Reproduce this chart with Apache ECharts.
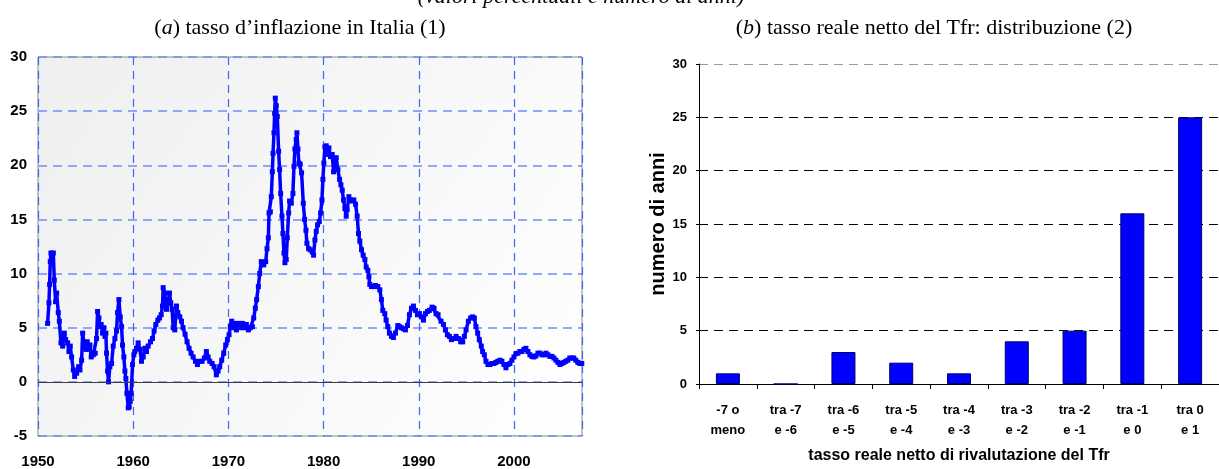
<!DOCTYPE html>
<html lang="it">
<head>
<meta charset="UTF-8">
<title>Inflazione e tasso reale del Tfr</title>
<script src="https://cdn.jsdelivr.net/npm/echarts@6/dist/echarts.min.js"></script>
<style>
    html, body { margin: 0; padding: 0; background: #fff; }
    #main { width: 1219px; height: 469px; }
</style>
</head>
<body>
<div id="main"></div>
<script>
// (a) inflazione: [anno, %], divisi per decennio
var infl1950s = [[1951.01,5.4],[1951.15,7.3],[1951.22,9.0],[1951.29,11.1],[1951.36,11.9],[1951.61,11.9],[1951.71,9.4],
    [1951.85,7.4],[1951.96,8.2],[1952.13,6.4],[1952.24,5.6],[1952.41,3.6],[1952.59,3.3],[1952.76,4.5],[1952.9,3.9],
    [1953.11,3.6],[1953.25,2.8],[1953.39,3.3],[1953.53,2.3],[1953.71,1.1],[1953.85,0.5],[1954.06,0.8],[1954.27,1.4],
    [1954.41,1.1],[1954.58,2.0],[1954.69,4.5],[1954.83,3.6],[1955.03,3.0],[1955.17,3.7],[1955.31,3.0],[1955.45,3.4],
    [1955.59,2.3],[1955.8,2.5],[1956.01,2.65],[1956.15,4.0],[1956.26,6.5],[1956.4,5.9],[1956.5,5.1],[1956.64,5.3],
    [1956.78,4.5],[1956.92,5.0],[1957.03,4.2],[1957.13,4.5],[1957.2,2.65],[1957.31,1.0],[1957.41,0.0],[1957.55,1.4],
    [1957.73,1.7],[1957.9,3.3],[1958.08,4.0],[1958.25,4.7],[1958.36,6.4],[1958.5,7.6],[1958.64,6.0],[1958.78,5.1],
    [1958.88,3.4],[1959.02,2.3],[1959.13,1.0],[1959.23,0.3],[1959.34,-1.05],[1959.48,-2.4],[1959.58,-2.3],
    [1959.69,-1.8],[1959.79,-1.05],[1959.93,1.6]];
var infl1960s = [[1960.07,2.5],[1960.17,2.8],[1960.35,3.1],[1960.52,3.6],[1960.7,3.0],[1960.87,1.9],[1961.05,2.3],
    [1961.22,3.1],[1961.4,2.8],[1961.57,3.3],[1961.82,3.7],[1962.03,4.0],[1962.2,4.7],[1962.38,5.3],[1962.59,5.7],
    [1962.76,5.9],[1962.94,6.2],[1963.08,7.0],[1963.15,8.7],[1963.29,8.2],[1963.39,7.6],[1963.5,6.7],[1963.67,7.3],
    [1963.81,8.2],[1963.95,7.3],[1964.09,6.7],[1964.2,5.0],[1964.37,4.8],[1964.55,7.0],[1964.69,6.4],[1964.9,6.0],
    [1965.07,5.6],[1965.24,5.0],[1965.45,4.4],[1965.66,3.7],[1965.87,3.1],[1966.08,2.65],[1966.29,2.3],[1966.54,1.9],
    [1966.75,1.6],[1966.99,1.9],[1967.24,1.9],[1967.48,2.2],[1967.69,2.8],[1967.87,2.3],[1968.04,1.9],[1968.29,1.7],
    [1968.5,1.4],[1968.74,0.65],[1968.92,1.0],[1969.09,1.4],[1969.3,2.0],[1969.51,2.65],[1969.72,3.4],[1969.9,3.9]];
var infl1970s = [[1970.07,4.35],[1970.21,5.1],[1970.35,5.6],[1970.49,5.0],[1970.66,5.4],[1970.84,4.8],[1971.05,5.4],
    [1971.26,5.0],[1971.47,5.4],[1971.68,5.0],[1971.89,5.3],[1972.1,4.8],[1972.31,5.0],[1972.52,5.1],[1972.66,5.9],
    [1972.83,6.8],[1972.97,7.6],[1973.15,8.8],[1973.29,10.0],[1973.46,11.1],[1973.71,10.8],[1973.92,11.1],
    [1974.06,12.3],[1974.2,13.3],[1974.27,15.6],[1974.41,15.7],[1974.51,17.1],[1974.62,19.4],[1974.69,21.1],
    [1974.79,23.0],[1974.86,24.8],[1974.93,26.2],[1975.03,25.5],[1975.14,24.5],[1975.28,21.3],[1975.38,19.6],
    [1975.49,17.4],[1975.63,15.3],[1975.73,13.7],[1975.84,11.9],[1975.94,11.0],[1976.08,11.3],[1976.19,13.3],
    [1976.33,15.6],[1976.43,16.7],[1976.61,16.5],[1976.78,17.4],[1976.89,19.9],[1976.99,21.5],[1977.13,22.4],
    [1977.2,23.0],[1977.31,21.5],[1977.41,20.2],[1977.55,20.1],[1977.69,19.3],[1977.87,16.5],[1978.01,15.0],
    [1978.15,14.0],[1978.25,12.8],[1978.43,12.3],[1978.6,12.2],[1978.81,12.0],[1978.95,11.7],[1979.09,13.1],
    [1979.23,13.9],[1979.37,14.5],[1979.55,14.8],[1979.69,15.6],[1979.83,16.8],[1979.93,18.7]];
var infl1980s = [[1980.03,20.2],[1980.14,21.7],[1980.28,21.8],[1980.45,21.0],[1980.56,21.6],[1980.73,20.8],
    [1980.91,21.0],[1981.05,19.4],[1981.22,20.2],[1981.33,20.7],[1981.5,19.6],[1981.68,18.7],[1981.82,18.2],
    [1981.96,17.7],[1982.1,16.8],[1982.24,16.0],[1982.38,15.3],[1982.48,15.9],[1982.66,17.1],[1982.83,16.8],
    [1983.01,16.7],[1983.18,16.8],[1983.36,16.4],[1983.53,15.3],[1983.67,13.7],[1983.81,13.0],[1983.99,12.2],
    [1984.16,11.7],[1984.34,11.3],[1984.48,10.6],[1984.65,10.3],[1984.76,9.7],[1984.86,9.0],[1985.03,8.8],
    [1985.24,8.8],[1985.45,8.9],[1985.7,8.8],[1985.91,8.5],[1986.08,7.6],[1986.22,6.6],[1986.43,6.3],[1986.57,5.7],
    [1986.75,5.1],[1986.92,4.5],[1987.13,4.2],[1987.34,4.1],[1987.55,4.5],[1987.8,5.2],[1987.97,5.1],[1988.18,5.0],
    [1988.39,4.9],[1988.6,4.8],[1988.81,5.2],[1989.02,6.2],[1989.23,6.8],[1989.44,7.0],[1989.65,6.6],[1989.86,6.2]];
var infl1990s = [[1990.07,6.3],[1990.28,6.0],[1990.49,5.7],[1990.7,6.3],[1990.91,6.5],[1991.12,6.6],[1991.4,6.9],
    [1991.61,6.8],[1991.82,6.3],[1992.03,6.2],[1992.34,5.6],[1992.59,5.3],[1992.8,4.8],[1993.01,4.35],[1993.22,4.2],
    [1993.43,3.9],[1993.71,4.0],[1993.92,4.2],[1994.17,4.0],[1994.41,3.7],[1994.62,3.7],[1994.79,4.2],[1994.97,4.8],
    [1995.21,5.6],[1995.45,5.9],[1995.66,6.0],[1995.84,5.9],[1996.01,5.1],[1996.19,4.5],[1996.36,3.9],[1996.57,3.3],
    [1996.71,2.8],[1996.89,2.5],[1997.06,1.9],[1997.27,1.6],[1997.48,1.6],[1997.69,1.7],[1997.9,1.7],[1998.11,1.8],
    [1998.32,1.9],[1998.53,2.0],[1998.74,1.9],[1998.95,1.6],[1999.16,1.3],[1999.37,1.6],[1999.58,1.7],[1999.79,2.0]];
var infl2000s = [[2000.0,2.3],[2000.21,2.6],[2000.42,2.65],[2000.63,2.8],[2000.84,2.8],[2001.05,3.0],[2001.26,3.1],
    [2001.47,2.8],[2001.68,2.5],[2001.89,2.35],[2002.1,2.3],[2002.31,2.4],[2002.52,2.65],[2002.73,2.65],[2002.94,2.5],
    [2003.15,2.5],[2003.36,2.65],[2003.57,2.5],[2003.78,2.35],[2003.99,2.35],[2004.2,2.2],[2004.41,2.0],[2004.62,1.8],
    [2004.83,1.6],[2005.04,1.7],[2005.24,1.8],[2005.45,1.9],[2005.66,2.0],[2005.87,2.2],[2006.08,2.2],[2006.29,2.2],
    [2006.5,2.0],[2006.71,1.8],[2006.92,1.7],[2007.13,1.7]];

// (b) distribuzione del tasso reale netto del Tfr
var tfrClasses = ['-7 o\nmeno', 'tra -7\ne -6', 'tra -6\ne -5', 'tra -5\ne -4', 'tra -4\ne -3',
    'tra -3\ne -2', 'tra -2\ne -1', 'tra -1\ne 0', 'tra 0\ne 1'];
var tfrYears = [1, 0, 3, 2, 1, 4, 5, 16, 25];

var inflazione = infl1950s.concat(infl1960s, infl1970s, infl1980s, infl1990s, infl2000s);

var serif = '"Liberation Serif", "Times New Roman", serif';
var sans = '"Liberation Sans", Arial, sans-serif';

var chart = echarts.init(document.getElementById('main'));
var option = {
    animation: false,
    title: [{
        text: '(valori percentuali e numero di anni)',
        left: 581, top: -14, textAlign: 'center', padding: 0,
        textStyle: {fontFamily: serif, fontSize: 22, fontStyle: 'italic', fontWeight: 'normal', color: '#000'}
    }, {
        text: '({i|a}) tasso d\u2019inflazione in Italia (1)',
        left: 300, top: 17, textAlign: 'center', padding: 0,
        textStyle: {fontFamily: serif, fontSize: 22, fontWeight: 'normal', color: '#000',
            rich: {i: {fontFamily: serif, fontSize: 22, fontStyle: 'italic', color: '#000'}}}
    }, {
        text: '({i|b}) tasso reale netto del Tfr: distribuzione (2)',
        left: 934, top: 17, textAlign: 'center', padding: 0,
        textStyle: {fontFamily: serif, fontSize: 22, fontWeight: 'normal', color: '#000',
            rich: {i: {fontFamily: serif, fontSize: 22, fontStyle: 'italic', color: '#000'}}}
    }],
    grid: [{
        left: 38, top: 57, width: 544, height: 379,
        show: true, borderColor: '#8c8c8c', borderWidth: 1,
        backgroundColor: new echarts.graphic.LinearGradient(0, 0, 1, 1, [
            {offset: 0, color: '#efefef'}, {offset: 1, color: '#ffffff'}])
    }, {
        left: 699, top: 64, width: 527, height: 321
    }],
    xAxis: [{
        gridIndex: 0, type: 'value', min: 1950, max: 2007.15, interval: 10,
        axisLine: {show: false}, axisTick: {show: false},
        axisLabel: {
            showMaxLabel: false, margin: 18, color: '#000',
            fontFamily: sans, fontSize: 15, fontWeight: 'bold',
            formatter: function (v) { return v % 10 === 0 ? String(v) : ''; }
        },
        splitLine: {show: true, lineStyle: {color: '#3d66f2', width: 1.2, type: [8, 6]}}
    }, {
        gridIndex: 1, type: 'category', data: tfrClasses,
        axisLine: {lineStyle: {color: '#000', width: 1}},
        axisTick: {show: true, length: 5, lineStyle: {color: '#000'}},
        axisLabel: {
            interval: 0, margin: 16, color: '#000', lineHeight: 20,
            fontFamily: sans, fontSize: 13, fontWeight: 'bold'
        },
        name: 'tasso reale netto di rivalutazione del Tfr',
        nameLocation: 'middle', nameGap: 64,
        nameTextStyle: {fontFamily: sans, fontSize: 16, fontWeight: 'bold', color: '#000'}
    }],
    yAxis: [{
        gridIndex: 0, type: 'value', min: -5, max: 30, interval: 5,
        axisLine: {show: false}, axisTick: {show: false},
        axisLabel: {margin: 11, color: '#000', fontFamily: sans, fontSize: 15, fontWeight: 'bold'},
        splitLine: {show: true, lineStyle: {color: '#6d8ef3', width: 1.5, type: [9, 6]}}
    }, {
        gridIndex: 1, type: 'value', min: 0, max: 30, interval: 5,
        axisLine: {show: true, lineStyle: {color: '#000', width: 1}},
        axisTick: {show: true, length: 3, lineStyle: {color: '#000'}},
        axisLabel: {margin: 12, color: '#000', fontFamily: sans, fontSize: 13, fontWeight: 'bold'},
        splitLine: {show: true, lineStyle: {
            color: ['#000', '#000', '#000', '#000', '#000', '#000', '#9a9a9a'], width: 1, type: [9, 6]}},
        name: 'numero di anni', nameLocation: 'middle', nameGap: 22,
        nameTextStyle: {fontFamily: sans, fontSize: 20, fontWeight: 'bold', color: '#000'}
    }],
    series: [{
        name: 'inflazione',
        type: 'line', xAxisIndex: 0, yAxisIndex: 0,
        data: inflazione,
        symbol: 'rect', symbolSize: 5, showSymbol: true,
        lineStyle: {color: '#0000ff', width: 3.5},
        itemStyle: {color: '#0000ff'},
        markLine: {
            silent: true, symbol: 'none', label: {show: false},
            lineStyle: {color: '#3c3c3c', width: 1.2, type: 'solid'},
            data: [{yAxis: 0}]
        },
        z: 3
    }, {
        name: 'numero di anni',
        type: 'bar', xAxisIndex: 1, yAxisIndex: 1,
        data: tfrYears,
        barWidth: 24,
        itemStyle: {color: '#0000ff', borderColor: '#00006a', borderWidth: 1}
    }]
};
chart.setOption(option);
</script>
</body>
</html>
